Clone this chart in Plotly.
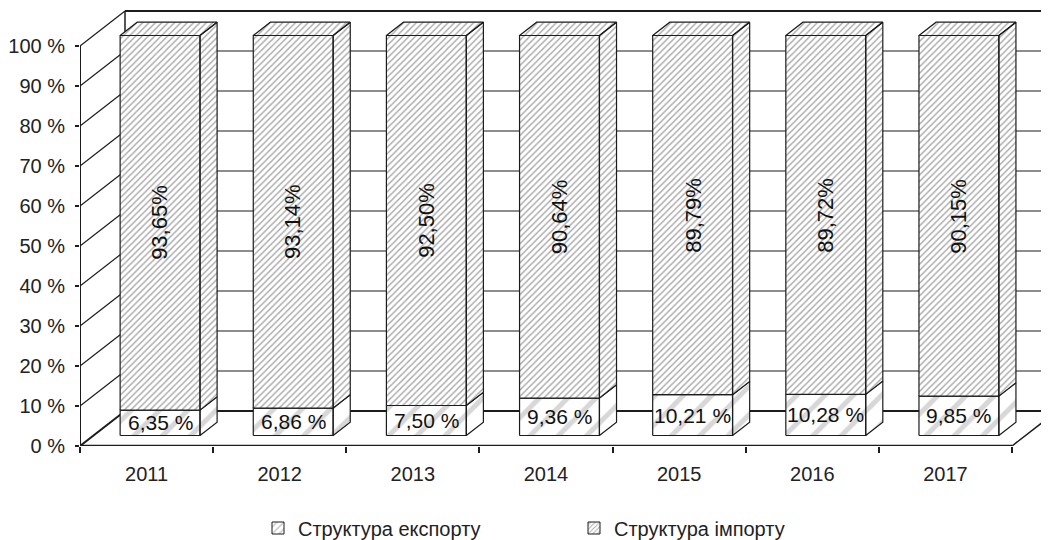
import plotly.graph_objects as go

# ---------------- data ----------------
years = ["2011", "2012", "2013", "2014", "2015", "2016", "2017"]
export_share = [6.35, 6.86, 7.50, 9.36, 10.21, 10.28, 9.85]
import_share = [93.65, 93.14, 92.50, 90.64, 89.79, 89.72, 90.15]
export_labels = ["6,35 %", "6,86 %", "7,50 %", "9,36 %", "10,21 %", "10,28 %", "9,85 %"]
import_labels = ["93,65%", "93,14%", "92,50%", "90,64%", "89,79%", "89,72%", "90,15%"]
y_ticks = [0, 10, 20, 30, 40, 50, 60, 70, 80, 90, 100]
y_tick_labels = ["0 %", "10 %", "20 %", "30 %", "40 %", "50 %", "60 %", "70 %", "80 %", "90 %", "100 %"]
series_names = ["Структура експорту", "Структура імпорту"]

# ---------------- 3D geometry (in axis units) ----------------
N = len(years)
DX = 0.338    # depth offset along x (category units)
DY = 8.75     # depth offset along y (percent units)
F1, F2 = 0.30, 0.68   # bar front / back depth fractions
HW = 0.30     # half bar width
INK = "#1c1c1c"
FONT = "Liberation Sans, Arial, sans-serif"

exp_pattern = dict(shape="/", size=20, solidity=0.25, fgcolor="#b0b0b0", bgcolor="white")
imp_pattern = dict(shape="/", size=4.5, solidity=0.3, fgcolor="#4a4a4a", bgcolor="white")


def p(x, y, d):
    return x + d * DX, y + d * DY


def poly_trace(polys, pattern, width=1.2):
    xs, ys = [], []
    for poly in polys:
        for (x, y) in poly + [poly[0]]:
            xs.append(x)
            ys.append(y)
        xs.append(None)
        ys.append(None)
    return go.Scatter(x=xs, y=ys, mode="lines", fill="toself", fillcolor="white",
                      fillpattern=pattern, line=dict(color=INK, width=width),
                      showlegend=False, hoverinfo="skip")


def line_trace(segs, width):
    xs, ys = [], []
    for (a, b) in segs:
        xs += [a[0], b[0], None]
        ys += [a[1], b[1], None]
    return go.Scatter(x=xs, y=ys, mode="lines", line=dict(color=INK, width=width),
                      showlegend=False, hoverinfo="skip")


fig = go.Figure()

# walls and floor
left_diag = [(p(0, v, 0), p(0, v, 1)) for v in y_ticks]
fig.add_trace(line_trace(left_diag[1:], 1.2))
fig.add_trace(line_trace([left_diag[0]], 2))
back_grid = [(p(0, v, 1), p(N, v, 1)) for v in y_ticks[1:-1]]
fig.add_trace(line_trace(back_grid, 1.2))
fig.add_trace(line_trace([(p(0, y_ticks[-1], 1), p(N, y_ticks[-1], 1))], 2.2))
fig.add_trace(line_trace([(p(0, 0, 1), p(0, y_ticks[-1], 1))], 1.5))
fig.add_trace(line_trace([(p(0, 0, 1), p(N, 0, 1))], 2))
fig.add_trace(line_trace([(p(N, 0, 0), p(N, 0, 1))], 1.5))
fig.add_trace(line_trace([(p(0, 0, 0), p(N, 0, 0))], 2.5))
fig.add_trace(line_trace([(p(0, 0, 0), p(0, y_ticks[-1], 0))], 2))

# bars
for i in range(N):
    c = i + 0.5
    e = export_share[i]
    t = e + import_share[i]
    # export segment
    front = [p(c - HW, 0, F1), p(c + HW, 0, F1), p(c + HW, e, F1), p(c - HW, e, F1)]
    side = [p(c + HW, 0, F1), p(c + HW, 0, F2), p(c + HW, e, F2), p(c + HW, e, F1)]
    fig.add_trace(poly_trace([front, side], exp_pattern))
    # import segment
    front = [p(c - HW, e, F1), p(c + HW, e, F1), p(c + HW, t, F1), p(c - HW, t, F1)]
    side = [p(c + HW, e, F1), p(c + HW, e, F2), p(c + HW, t, F2), p(c + HW, t, F1)]
    top = [p(c - HW, t, F1), p(c + HW, t, F1), p(c + HW, t, F2), p(c - HW, t, F2)]
    fig.add_trace(poly_trace([front, side, top], imp_pattern))

# legend-only entries
fig.add_trace(go.Bar(x=[None], y=[None], name=series_names[0],
                     marker=dict(color="white", line=dict(color=INK, width=1), pattern=dict(
                         shape="/", size=6, solidity=0.35, fgcolor="#a0a0a0", bgcolor="white"))))
fig.add_trace(go.Bar(x=[None], y=[None], name=series_names[1],
                     marker=dict(color="white", line=dict(color=INK, width=1), pattern=dict(
                         shape="/", size=4, solidity=0.3, fgcolor="#555", bgcolor="white"))))

# labels
annotations = []
for i in range(N):
    c = i + 0.5
    e = export_share[i]
    x, y = p(c, e / 2, F1)
    annotations.append(dict(x=x, y=y, text=export_labels[i], showarrow=False,
                            font=dict(size=21, color="#111", family=FONT)))
    x, y = p(c, e + import_share[i] / 2, F1)
    annotations.append(dict(x=x, y=y, text=import_labels[i], showarrow=False, textangle=-90,
                            font=dict(size=22, color="#111", family=FONT)))

# page body has an 8px margin: figure covers the window minus that offset
W, H = 1041, 532
ml, mr, mt, mb = 72, 0, 1, 94
px_per_cat = 133.14
px_per_pct = 4.0

fig.update_layout(
    width=W, height=H,
    margin=dict(l=ml, r=mr, t=mt, b=mb, autoexpand=False),
    paper_bgcolor="white", plot_bgcolor="white",
    font=dict(family=FONT, size=20, color="#222"),
    annotations=annotations,
    showlegend=True,
    legend=dict(orientation="h", xref="container", yref="container",
                x=250 / W, y=1 - 520 / H, xanchor="left", yanchor="middle",
                entrywidth=271, entrywidthmode="pixels",
                font=dict(size=20, family=FONT, color="#222"), bgcolor="rgba(0,0,0,0)"),
    xaxis=dict(range=[0, (W - ml - mr) / px_per_cat], showgrid=False, zeroline=False,
               automargin=False,
               showline=False, tickmode="array", tickvals=[i + 0.5 for i in range(N)],
               ticktext=years, ticks="outside", ticklen=6, tickcolor="rgba(0,0,0,0)",
               ticklabelstandoff=4,
               minor=dict(tickmode="array", tickvals=list(range(N + 1)), ticks="outside",
                          ticklen=6, tickcolor=INK, tickwidth=1.5),
               tickfont=dict(size=20, family=FONT, color="#222")),
    yaxis=dict(range=[0, (H - mt - mb) / px_per_pct], showgrid=False, zeroline=False,
               automargin=False,
               showline=False, tickmode="array", tickvals=y_ticks, ticktext=y_tick_labels,
               ticks="outside", ticklen=4, tickcolor=INK, tickwidth=1.5,
               ticklabelstandoff=6,
               tickfont=dict(size=20, family=FONT, color="#222")),
)

fig.write_html("out.html")
